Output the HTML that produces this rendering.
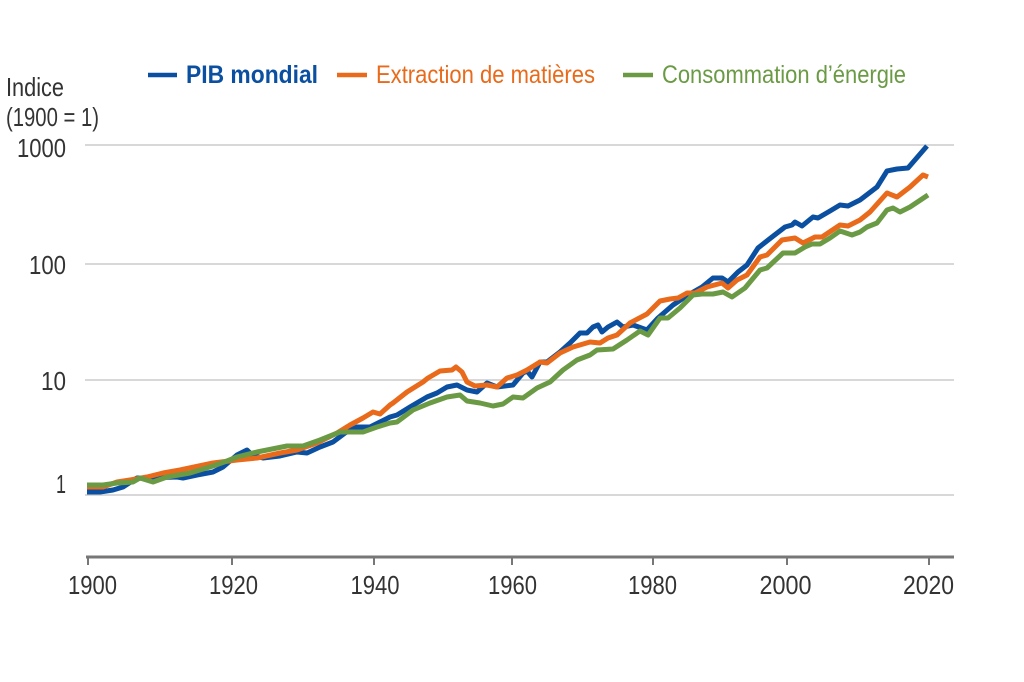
<!DOCTYPE html>
<html>
<head>
<meta charset="utf-8">
<style>
  html, body { margin: 0; padding: 0; background: #ffffff; }
  svg { display: block; }
  text { font-family: "Liberation Sans", "DejaVu Sans", sans-serif; }
</style>
</head>
<body>
<svg width="1024" height="682" viewBox="0 0 1024 682" xmlns="http://www.w3.org/2000/svg">
  <rect x="0" y="0" width="1024" height="682" fill="#ffffff"/>

  <!-- Legend -->
  <line x1="148" y1="75" x2="177" y2="75" stroke="#0b4fa0" stroke-width="4.5"/>
  <text x="186" y="83" font-size="25" font-weight="bold" fill="#0b4fa0" textLength="132" lengthAdjust="spacingAndGlyphs">PIB mondial</text>
  <line x1="337" y1="75" x2="367" y2="75" stroke="#e86a1a" stroke-width="4.5"/>
  <text x="376" y="83" font-size="25" fill="#e86a1a" textLength="219" lengthAdjust="spacingAndGlyphs">Extraction de matières</text>
  <line x1="623" y1="75" x2="653" y2="75" stroke="#6b9a45" stroke-width="4.5"/>
  <text x="662" y="83" font-size="25" fill="#6b9a45" textLength="244" lengthAdjust="spacingAndGlyphs">Consommation d’énergie</text>

  <!-- Y axis title -->
  <text x="6" y="96" font-size="26" fill="#333333" textLength="58" lengthAdjust="spacingAndGlyphs">Indice</text>
  <text x="6" y="126" font-size="26" fill="#333333" textLength="93" lengthAdjust="spacingAndGlyphs">(1900 = 1)</text>

  <!-- Gridlines -->
  <g stroke="#cccccc" stroke-width="1.5">
    <line x1="85" y1="145" x2="954" y2="145"/>
    <line x1="85" y1="264" x2="954" y2="264"/>
    <line x1="85" y1="380" x2="954" y2="380"/>
    <line x1="85" y1="495" x2="954" y2="495"/>
  </g>

  <!-- Y labels -->
  <g font-size="26" fill="#333333" text-anchor="end">
    <text x="66" y="157" textLength="49" lengthAdjust="spacingAndGlyphs">1000</text>
    <text x="66" y="274" textLength="37" lengthAdjust="spacingAndGlyphs">100</text>
    <text x="66" y="390" textLength="25" lengthAdjust="spacingAndGlyphs">10</text>
    <text x="66" y="493" textLength="10" lengthAdjust="spacingAndGlyphs">1</text>
  </g>

  <!-- X axis -->
  <line x1="86" y1="557" x2="954" y2="557" stroke="#777777" stroke-width="3"/>
  <g stroke="#777777" stroke-width="2">
    <line x1="88" y1="557" x2="88" y2="565"/>
    <line x1="232" y1="557" x2="232" y2="565"/>
    <line x1="374" y1="557" x2="374" y2="565"/>
    <line x1="512" y1="557" x2="512" y2="565"/>
    <line x1="653" y1="557" x2="653" y2="565"/>
    <line x1="787" y1="557" x2="787" y2="565"/>
    <line x1="929" y1="557" x2="929" y2="565"/>
  </g>
  <g font-size="26" fill="#333333" text-anchor="middle">
    <text x="92.5" y="594" textLength="49" lengthAdjust="spacingAndGlyphs">1900</text>
    <text x="233.5" y="594" textLength="49" lengthAdjust="spacingAndGlyphs">1920</text>
    <text x="375" y="594" textLength="49" lengthAdjust="spacingAndGlyphs">1940</text>
    <text x="512.5" y="594" textLength="49" lengthAdjust="spacingAndGlyphs">1960</text>
    <text x="652.5" y="594" textLength="49" lengthAdjust="spacingAndGlyphs">1980</text>
    <text x="785.5" y="594" textLength="52" lengthAdjust="spacingAndGlyphs">2000</text>
    <text x="928.5" y="594" textLength="51" lengthAdjust="spacingAndGlyphs">2020</text>
  </g>

  <!-- Series -->
  <g fill="none" stroke-width="5" stroke-linejoin="round" stroke-linecap="butt">
    <polyline stroke="#0b4fa0" points="87,492 100,492 113,490 123,487 137,478 147,478 177,477 183,478 197,475 213,472 223,467 237,455 247,450 252,455 263,458 280,456 297,452 307,453 320,447 333,442 345,433 357,427 370,427 380,422 390,417 397,415 410,407 427,397 437,393 447,387 457,385 467,390 477,392 487,383 497,387 513,385 523,373 527,371 532,377 540,362 547,362 560,352 570,343 580,333 587,333 593,327 598,325 602,332 608,327 617,322 623,327 633,325 647,330 658,318 673,305 688,295 702,287 713,278 722,278 728,282 738,272 747,265 758,248 772,237 785,227 792,225 795,222 802,226 813,217 818,218 830,211 840,205 848,206 860,200 877,187 887,171 897,169 908,168 927,146"/>
    <polyline stroke="#e86a1a" points="87,487 103,487 117,482 130,480 147,477 163,473 180,470 213,463 237,460 257,458 280,453 297,450 317,443 337,433 350,425 363,418 373,412 380,414 390,405 393,403 407,392 423,382 428,378 440,371 452,370 456,367 462,372 467,382 475,386 487,385 497,387 507,378 517,375 527,370 540,362 547,363 560,353 573,347 590,342 600,343 608,338 617,335 630,323 647,314 660,301 670,299 678,298 687,293 695,293 707,287 722,283 728,288 737,280 747,275 760,257 767,255 782,240 795,238 803,243 815,237 822,237 828,233 840,225 848,226 860,220 870,212 887,193 897,197 910,187 923,175 928,177"/>
    <polyline stroke="#6b9a45" points="87,485 103,485 117,483 133,482 140,478 153,482 167,477 190,473 213,466 227,461 237,457 257,452 287,446 303,446 320,440 340,432 357,432 363,432 377,427 390,423 397,422 413,410 430,403 447,397 460,395 467,401 480,403 493,406 503,404 513,397 523,398 537,388 550,382 563,370 577,360 590,355 597,350 613,349 627,340 640,331 648,335 660,318 668,318 680,308 693,295 702,294 713,294 723,292 732,297 745,288 760,270 767,268 783,253 795,253 805,247 812,244 820,244 830,238 840,231 852,235 860,232 867,227 877,223 887,210 893,208 900,212 910,207 928,195"/>
  </g>
</svg>
</body>
</html>
